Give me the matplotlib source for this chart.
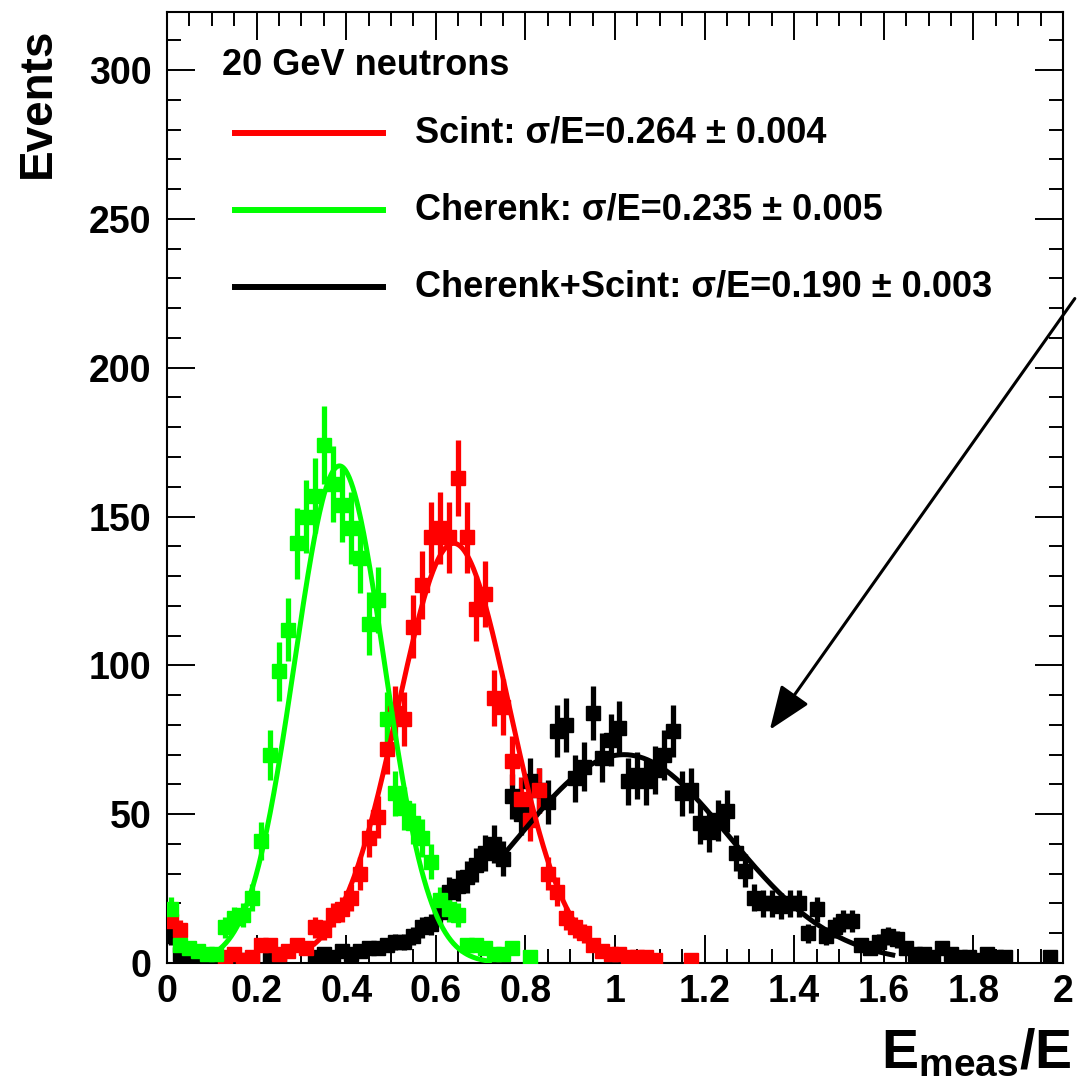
import numpy as np
import matplotlib
matplotlib.use("Agg")
import matplotlib.pyplot as plt

plt.rcParams['font.family'] = ['Liberation Sans', 'DejaVu Sans']
plt.rcParams['mathtext.fontset'] = 'custom'
plt.rcParams['mathtext.bf'] = 'Liberation Sans:bold'
plt.rcParams['mathtext.rm'] = 'Liberation Sans'

# binning of the histograms: 100 bins from 0 to 2
bin_edges = np.linspace(0, 2, 101)

# counts per bin
cherenk_counts = [18, 6, 5, 4, 3, 3, 12, 15, 16, 22,
                  41, 70, 98, 112, 141, 150, 157, 174, 161, 154,
                  146, 136, 114, 122, 82, 57, 52, 47, 42, 34,
                  21, 18, 16, 6, 6, 5, 3, 3, 5, 0,
                  2] + [0] * 59

scint_counts = [14, 11, 0, 0, 0, 0, 2, 3, 1, 2,
                6, 6, 3, 4, 6, 5, 12, 11, 16, 18,
                22, 30, 42, 49, 72, 84, 82, 113, 127, 143,
                146, 143, 163, 143, 119, 124, 89, 86, 68, 55,
                48, 58, 30, 24, 15, 12, 10, 6, 4, 3,
                3, 2, 2, 2, 1, 0, 0, 0, 1, 0] + [0] * 40

combined_counts = [9, 3, 1, 1, 1, 1, 0, 0, 1, 1,
                   0, 1, 1, 0, 0, 0, 2, 3, 2, 4,
                   3, 4, 5, 5, 6, 7, 7, 9, 12, 13,
                   17, 24, 26, 29, 33, 37, 40, 35, 56, 50,
                   61, 58, 54, 78, 80, 62, 66, 84, 69, 75,
                   79, 61, 63, 61, 65, 70, 78, 57, 58, 47,
                   44, 48, 51, 37, 31, 22, 20, 20, 19, 20,
                   20, 10, 18, 9, 12, 14, 14, 6, 5, 7,
                   9, 8, 5, 3, 3, 2, 5, 3, 2, 2,
                   1, 3, 2, 2, 0, 0, 0, 0, 2, 0]

# gaussian fits: amplitude, mean, sigma, fit range
cherenk_fit = [167, 0.385, 0.100, 0.12, 0.72]
scint_fit = [141, 0.640, 0.125, 0.33, 0.96]
combined_fit = [70, 1.020, 0.235, 0.74, 1.62]

legend_title = '20 GeV neutrons'
legend_labels = ['Scint: \u03c3/E=0.264 \u00b1 0.004',
                 'Cherenk: \u03c3/E=0.235 \u00b1 0.005',
                 'Cherenk+Scint: \u03c3/E=0.190 \u00b1 0.003']

x_ticks = [0, 0.2, 0.4, 0.6, 0.8, 1, 1.2, 1.4, 1.6, 1.8, 2]
x_ticklabels = ['0', '0.2', '0.4', '0.6', '0.8', '1', '1.2', '1.4', '1.6', '1.8', '2']
y_ticks = [0, 50, 100, 150, 200, 250, 300]

RED = '#ff0000'
GREEN = '#00ff00'
BLACK = '#000000'

fig = plt.figure(figsize=(10.77, 10.84), dpi=100)
ax = fig.add_axes([167 / 1077, 121 / 1084, 896 / 1077, 951 / 1084])

centers = 0.5 * (bin_edges[:-1] + bin_edges[1:])


def draw_hist(counts, color):
    counts = np.asarray(counts, dtype=float)
    m = counts > 0
    ax.errorbar(centers[m], counts[m], yerr=np.sqrt(counts[m]), fmt='s',
                ms=10.5, color=color, mec=color, mfc=color,
                elinewidth=3.8, capsize=0, zorder=3)


def draw_fit(pars, color):
    amp, mu, sig, lo, hi = pars
    xs = np.linspace(lo, hi, 300)
    ax.plot(xs, amp * np.exp(-0.5 * ((xs - mu) / sig) ** 2),
            color=color, lw=3.6, zorder=4)


draw_hist(combined_counts, BLACK)
draw_fit(combined_fit, BLACK)
draw_hist(scint_counts, RED)
draw_fit(scint_fit, RED)
draw_hist(cherenk_counts, GREEN)
draw_fit(cherenk_fit, GREEN)

ax.set_xlim(0, 2)
ax.set_ylim(0, 319.5)
ax.set_xticks(x_ticks)
ax.set_xticklabels(x_ticklabels)
ax.set_yticks(y_ticks)
ax.set_xticks(np.arange(0, 2.001, 0.05), minor=True)
ax.set_yticks(np.arange(0, 320, 10), minor=True)

ax.tick_params(which='both', direction='in', top=True, right=True, width=1.4)
ax.tick_params(which='major', length=20)
ax.tick_params(which='minor', length=10)
ax.tick_params(axis='y', which='major', pad=11)
ax.tick_params(axis='x', which='major', pad=8)
for lab in ax.get_xticklabels() + ax.get_yticklabels():
    lab.set_fontweight('bold')
    lab.set_fontsize(27)
for sp in ax.spines.values():
    sp.set_linewidth(1.5)

# legend drawn by hand, ROOT style
ax.text(0.061, 0.944, legend_title, transform=ax.transAxes, fontsize=26,
        fontweight='bold', ha='left', va='center')
leg_y = [0.873, 0.792, 0.711]
for yy, lab, col in zip(leg_y, legend_labels, [RED, GREEN, BLACK]):
    ax.plot([0.076, 0.241], [yy, yy], transform=ax.transAxes, color=col, lw=4.3)
    ax.text(0.277, yy, lab, transform=ax.transAxes, fontsize=26,
            fontweight='bold', ha='left', va='center')

fig.text(38 / 1077, 1 - 28 / 1084, 'Events', rotation=90, ha='center', va='top',
         fontsize=33, fontweight='bold')
fig.text(1072 / 1077, 16 / 1084, r'$\mathbf{E_{meas}/E}$', ha='right', va='baseline',
         fontsize=40)

# arrow pointing at the combined distribution
ax.annotate('', xy=(1.342, 77.6), xytext=(2.03, 224), xycoords='data',
            arrowprops=dict(arrowstyle='-|>,head_length=0.9,head_width=0.35',
                            lw=2.2, color='k', mutation_scale=30),
            annotation_clip=False)

fig.savefig('out.png', dpi=100)
